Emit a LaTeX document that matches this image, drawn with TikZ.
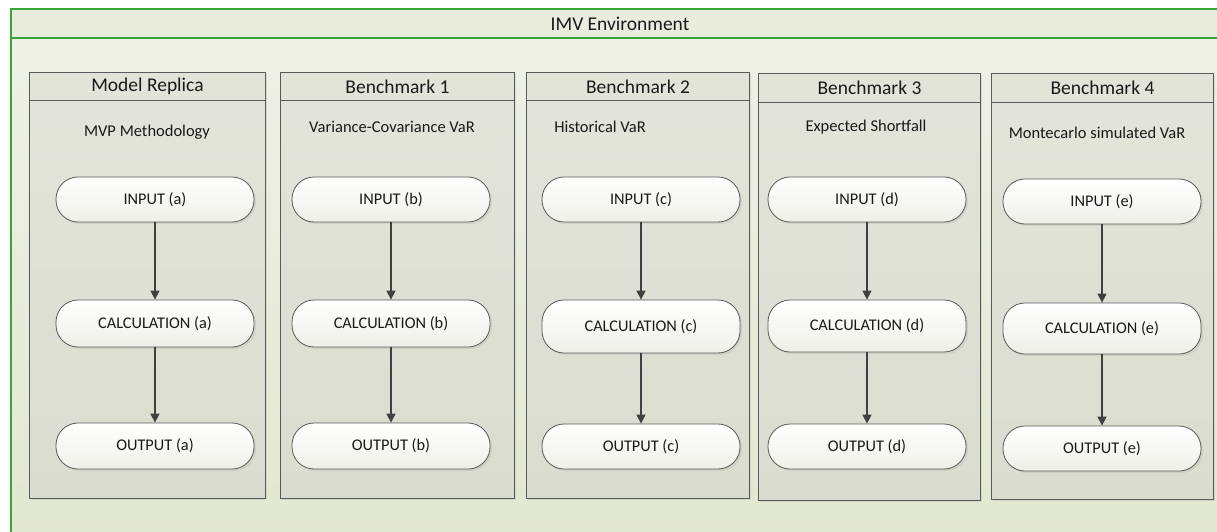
\documentclass[tikz,border=0pt]{standalone}
\usepackage{fontspec}
\setmainfont{Carlito}
\usetikzlibrary{arrows.meta,shadows}
\definecolor{envgreen}{HTML}{3CA33A}
\definecolor{bgtop}{HTML}{EFF1E8}
\definecolor{bgbot}{HTML}{E2E7D1}
\definecolor{titlefill}{HTML}{E9EBDD}
\definecolor{coltop}{HTML}{E3E4DB}
\definecolor{colbot}{HTML}{DADCCF}
\definecolor{headfill}{HTML}{E2E3D9}
\definecolor{edge}{HTML}{5A5A5A}
\definecolor{pillbot}{HTML}{EEF0E7}
\definecolor{arrowcol}{HTML}{404040}
\definecolor{txt}{HTML}{1A1A1A}
\tikzset{
  colbody/.style={draw=edge, line width=0.9pt, top color=coltop, bottom color=colbot,
    drop shadow={opacity=0.18, shadow xshift=2pt, shadow yshift=-2pt}, inner sep=0pt, anchor=north west},
  colhead/.style={draw=edge, line width=0.9pt, fill=headfill, inner sep=0pt, anchor=north west,
    font=\fontsize{19.5}{22}\selectfont, text=txt},
  sublabel/.style={font=\fontsize{16.5}{19}\selectfont, text=txt, inner sep=0pt},
  pill/.style={draw=edge, line width=0.8pt, top color=white, bottom color=pillbot,
    rounded corners=22pt, minimum width=198pt, inner sep=0pt,
    font=\fontsize{16.3}{19}\selectfont, text=txt,
    drop shadow={opacity=0.15, shadow xshift=2pt, shadow yshift=-2pt}},
  flow/.style={draw=arrowcol, line width=1.3pt, -{Triangle[length=9pt,width=9pt]}}
}
\begin{document}
\begin{tikzpicture}[x=1pt,y=-1pt]
\useasboundingbox (0,0) rectangle (1217,531);
% environment frame
\path[top color=bgtop, bottom color=bgbot] (11,9) rectangle (1240,545);
\node[fill=titlefill, inner sep=0pt, minimum width=1229pt, minimum height=29pt, anchor=north west] (env) at (11,9) {};
\node[font=\fontsize{19.5}{22}\selectfont, text=txt] (envtitle) at (620,24) {IMV Environment};
\draw[envgreen, line width=2.8pt] (1240,9) -- (11,9) -- (11,545);
\draw[envgreen, line width=2.8pt] (11,38) -- (1240,38);

% columns: name, left, right, top, header bottom, bottom, title, sub, sub x, sub y, pill x, pill ys
\foreach \n/\l/\r/\t/\hb/\b/\ttl/\sub/\sx/\sy/\px/\iy/\ih/\cy/\ch/\oy/\oh/\tag in {
  a/29/265/72/100/498/{Model Replica}/{MVP Methodology}/147/132/155/199.5/45/323.5/47/446/46/a,
  b/280/514/72/100/498/{Benchmark 1}/{Variance-Covariance VaR}/392/127/391/199.5/45/323.5/47/446/46/b,
  c/526/749/72/100/498/{Benchmark 2}/{Historical VaR}/600/127/641/199.5/45/326.5/53/446.5/45/c,
  d/758/980/73/102/500/{Benchmark 3}/{Expected Shortfall}/866/127/867/199.5/45/326/52/446.5/45/d,
  e/991/1213/73/102/499/{Benchmark 4}/{Montecarlo simulated VaR}/1097/133/1102/201.5/45/328.5/51/448.5/45/e}
{
  \pgfmathsetmacro{\w}{\r-\l}
  \pgfmathsetmacro{\h}{\b-\t}
  \pgfmathsetmacro{\hh}{\hb-\t}
  \node[colbody, minimum width=\w pt, minimum height=\h pt] (col\n) at (\l,\t) {};
  \node[colhead, minimum width=\w pt, minimum height=\hh pt] (head\n) at (\l,\t) {\ttl};
  \node[sublabel] (sub\n) at (\sx,\sy) {\sub};
  \node[pill, minimum height=\ih pt] (in\n) at (\px,\iy) {INPUT (\tag)};
  \node[pill, minimum height=\ch pt] (calc\n) at (\px,\cy) {CALCULATION (\tag)};
  \node[pill, minimum height=\oh pt] (out\n) at (\px,\oy) {OUTPUT (\tag)};
  \draw[flow] (in\n) -- (calc\n);
  \draw[flow] (calc\n) -- (out\n);
}
\end{tikzpicture}
\end{document}
